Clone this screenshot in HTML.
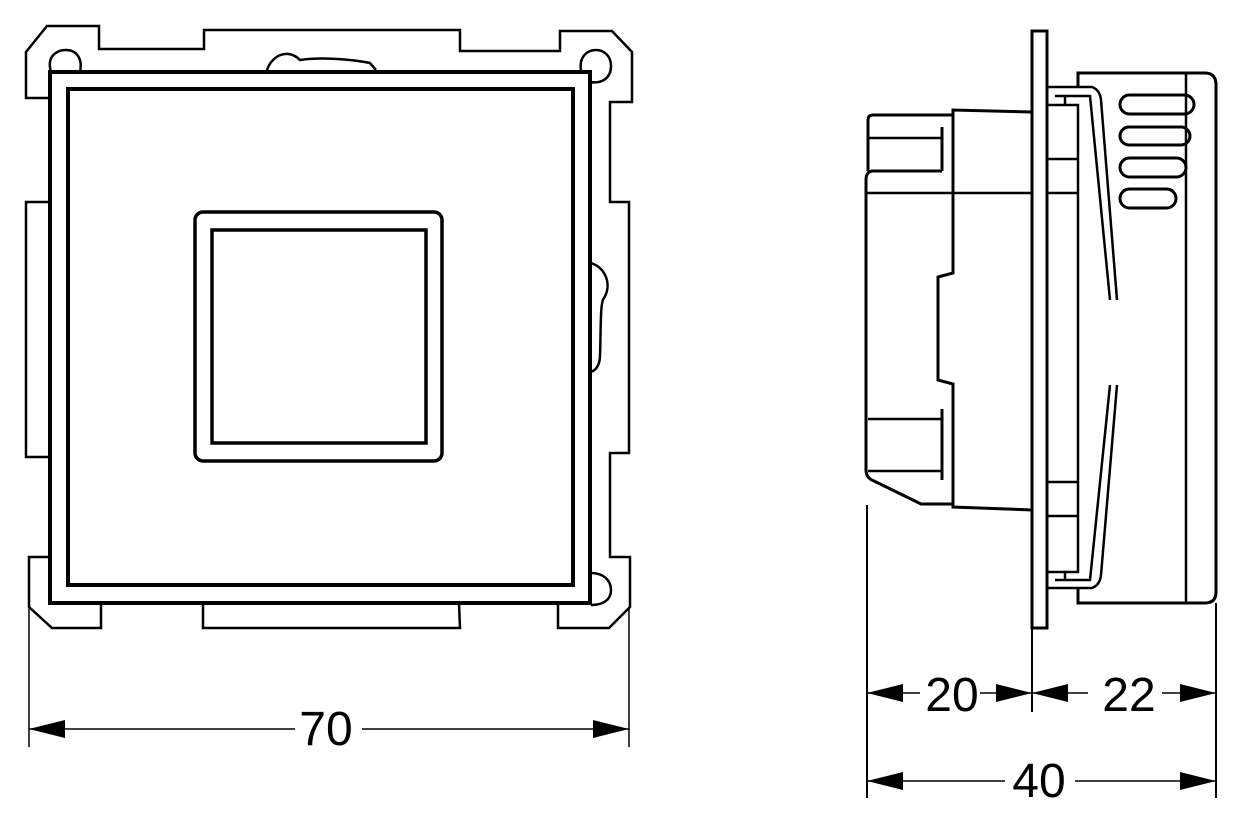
<!DOCTYPE html>
<html><head><meta charset="utf-8"><style>html,body{margin:0;padding:0;background:#fff}svg{display:block}</style></head><body>
<svg width="1260" height="823" viewBox="0 0 1260 823" xmlns="http://www.w3.org/2000/svg">
<defs>
<marker id="a" viewBox="0 0 10 10" refX="10" refY="5" markerWidth="36" markerHeight="18" markerUnits="userSpaceOnUse" orient="auto-start-reverse" preserveAspectRatio="none"><path d="M0,0L10,5L0,10z" fill="#000"/></marker>
</defs>
<g fill="none" stroke="#000" stroke-width="2.5" stroke-linejoin="miter">
<path d="M48,98 L26,98 L26,52 L47,26 L99,26 L99,49 L204,49 L204,30 L460,30 L460,51 L560,51 L560,31 L612,31 L632,52 L632,102 L610,102 L610,202 L629,202 L629,453 L610,453 L610,557 L630,557 L630,607 L609,628 L558,628 L558,603"/>
<path d="M48,202 L26,202 L26,457 L48,457"/>
<path d="M48,557 L29,557 L29,607 L52,628 L101,628 L101,603"/>
<path d="M203,603 L203,628 L460,628 L459,603"/>
<path d="M51,72 C46,55 58,50 66,50 C76,50 83,58 80,72"/>
<path d="M590,82 C602,84 611,78 611,66 C611,55 603,50 596,50 C586,50 579,58 581,70"/>
<path d="M591,573 C603,573 611,580 611,590 C611,600 603,605 591,605"/>
<path d="M267,70 C272,55 288,48 300,60 C320,57 350,59 370,63 L376,70"/>
<path d="M591,263 C606,268 612,285 604,298 C600,302 601,330 600,355 C600,365 596,370 591,372"/>
<rect x="50" y="72" width="540" height="531" stroke-width="4"/>
<rect x="68" y="89" width="505" height="496" stroke-width="4"/>
<rect x="195" y="212" width="247" height="249" rx="8" stroke-width="3.5"/>
<rect x="212" y="230" width="214" height="213" stroke-width="3.5"/>
</g>
<g fill="none" stroke="#000" stroke-width="2.5">
<rect x="1032" y="31" width="15" height="597" stroke-width="3"/>
<path d="M1078,87 L1078,73 L1205,73 Q1216,73 1216,85 L1216,592 Q1216,603 1205,603 L1078,603 L1078,588" stroke-width="3"/>
<line x1="1186" y1="73" x2="1186" y2="603"/>
<path d="M1047,87 L1092,87 Q1100,90 1101,100 L1117,300"/>
<path d="M1055,96 L1090,96 L1110,300"/>
<path d="M1047,588 L1092,588 Q1100,585 1101,575 L1117,385"/>
<path d="M1055,580 L1090,580 L1110,385"/>
<path d="M1065,105 L1065,96 M1065,105 L1078,105 L1078,572 L1065,572 L1065,580"/>
<line x1="1047" y1="105" x2="1065" y2="105"/>
<line x1="1047" y1="572" x2="1065" y2="572"/>
<line x1="1047" y1="159" x2="1078" y2="159"/>
<line x1="1047" y1="193" x2="1078" y2="193"/>
<line x1="1047" y1="482" x2="1078" y2="482"/>
<line x1="1047" y1="516" x2="1078" y2="516"/>
<rect x="1120" y="95" width="74" height="19" rx="9.5" stroke-width="3"/>
<rect x="1120" y="127" width="70" height="18" rx="9" stroke-width="3"/>
<rect x="1120" y="158" width="66" height="19" rx="9.5" stroke-width="3"/>
<rect x="1120" y="189" width="56" height="19" rx="9.5" stroke-width="3"/>
<path d="M1032,112 L953,110 L953,273 L938,277 L938,380 L953,384 L953,507 L1032,510" stroke-width="3"/>
<path d="M953,115 L873,115 Q868,115 868,120 L868,171" stroke-width="3"/>
<line x1="868" y1="138" x2="942" y2="138"/>
<path d="M942,171 L872,171 Q866,172 866,180 L866,470 Q866,478 874,481 L921,504 L953,504" stroke-width="3"/>
<line x1="942" y1="127" x2="942" y2="171" stroke-width="3"/>
<line x1="866" y1="193" x2="1032" y2="193"/>
<line x1="868" y1="419" x2="942" y2="419"/>
<line x1="868" y1="471" x2="942" y2="471"/>
<line x1="942" y1="409" x2="942" y2="480" stroke-width="3"/>
</g>
<g stroke="#000" stroke-width="1.5" fill="none">
<line x1="29" y1="607" x2="29" y2="747"/>
<line x1="629" y1="607" x2="629" y2="747"/>
<line x1="29" y1="729" x2="295" y2="729" marker-start="url(#a)"/>
<line x1="362" y1="729" x2="629" y2="729" marker-end="url(#a)"/>
<line x1="867" y1="505" x2="867" y2="798" stroke-width="2"/>
<line x1="1032" y1="628" x2="1032" y2="712" stroke-width="2"/>
<line x1="1216" y1="603" x2="1216" y2="798" stroke-width="2"/>
<line x1="867" y1="693" x2="920" y2="693" marker-start="url(#a)"/>
<line x1="980" y1="693" x2="1032" y2="693" marker-end="url(#a)"/>
<line x1="1032" y1="693" x2="1088" y2="693" marker-start="url(#a)"/>
<line x1="1162" y1="693" x2="1216" y2="693" marker-end="url(#a)"/>
<line x1="867" y1="781" x2="1005" y2="781" marker-start="url(#a)"/>
<line x1="1075" y1="781" x2="1216" y2="781" marker-end="url(#a)"/>
</g>
<g font-family="Liberation Sans, sans-serif" font-size="48" text-anchor="middle" fill="#000">
<text x="326" y="745">70</text>
<text x="952" y="711">20</text>
<text x="1129" y="711">22</text>
<text x="1039" y="797">40</text>
</g>
</svg>
</body></html>
